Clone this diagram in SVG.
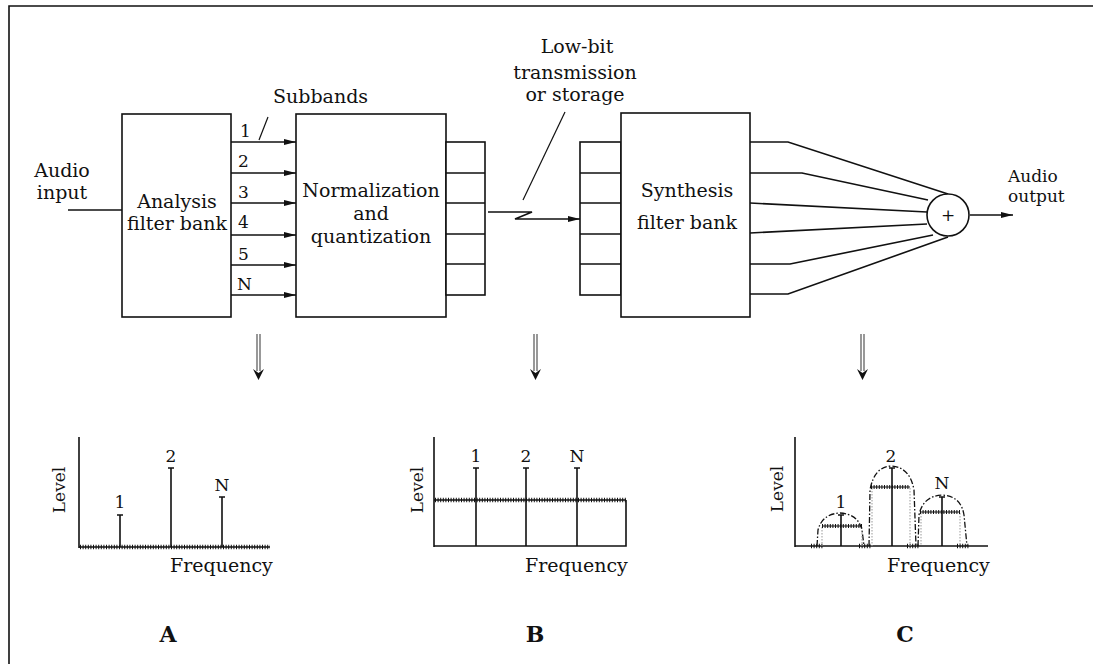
<svg xmlns="http://www.w3.org/2000/svg" width="1093" height="664" viewBox="0 0 1093 664">
<style>
.t{font-family:"DejaVu Serif","Liberation Serif",serif;font-size:19px;fill:#111}
.s{font-size:17px}
.b{font-family:"DejaVu Serif","Liberation Serif",serif;font-size:22px;font-weight:bold;fill:#111}
.box{fill:#fff;stroke:#111;stroke-width:1.6}
.ln{fill:none;stroke:#111;stroke-width:1.6}
.thin{fill:none;stroke:#111;stroke-width:1.2}
.noise{fill:none;stroke:#111;stroke-width:4.5;stroke-dasharray:1 1.6}
.dome{fill:none;stroke:#111;stroke-width:1.3;stroke-dasharray:6 2 1.5 2}
.dot{fill:none;stroke:#999;stroke-width:1;stroke-dasharray:1.5 1.5}
.dbl{fill:none;stroke:#555;stroke-width:1.2}
</style>
<defs>
<marker id="ah" markerWidth="12" markerHeight="8" refX="12" refY="4" orient="auto" markerUnits="userSpaceOnUse">
<path d="M0,1 L12,4 L0,7 Z" fill="#111"/>
</marker>
</defs>
<rect width="1093" height="664" fill="#fff"/>
<!-- frame -->
<path class="ln" d="M9,664 V6 H1093"/>

<g id="connectors">
<line class="ln" x1="68" y1="210" x2="122" y2="210"/>
<line class="ln" x1="231" y1="142" x2="296" y2="142" marker-end="url(#ah)"/>
<line class="ln" x1="231" y1="173" x2="296" y2="173" marker-end="url(#ah)"/>
<line class="ln" x1="231" y1="203" x2="296" y2="203" marker-end="url(#ah)"/>
<line class="ln" x1="231" y1="235" x2="296" y2="235" marker-end="url(#ah)"/>
<line class="ln" x1="231" y1="265" x2="296" y2="265" marker-end="url(#ah)"/>
<line class="ln" x1="231" y1="295" x2="296" y2="295" marker-end="url(#ah)"/>
<line class="thin" x1="268" y1="117" x2="259" y2="140"/>
<path class="ln" d="M488,212 H532 L515,219 H580" marker-end="url(#ah)"/>
<line class="thin" x1="565" y1="112" x2="523" y2="200"/>
<path class="ln" d="M750,142 H788 L948,194"/>
<path class="ln" d="M750,173 H802 L928,200"/>
<path class="ln" d="M750,203 L927,212"/>
<path class="ln" d="M750,233 L927,224"/>
<path class="ln" d="M750,264 H790 L933,235"/>
<path class="ln" d="M750,294 H788 L948,237"/>
<line class="ln" x1="970" y1="215" x2="1013" y2="215" marker-end="url(#ah)"/>
<!-- double arrows -->
<g id="down-arrows">
<path class="dbl" d="M257,334 V371 M260,334 V371"/>
<path d="M253,369 L258.5,380 L264,369 L258.5,373 Z" fill="#111"/>
<path class="dbl" d="M534,334 V371 M537,334 V371"/>
<path d="M530,369 L535.5,380 L541,369 L535.5,373 Z" fill="#111"/>
<path class="dbl" d="M861,334 V371 M864,334 V371"/>
<path d="M857,369 L862.5,380 L868,369 L862.5,373 Z" fill="#111"/>
</g>
</g>

<g id="audio-input">
<text class="t" x="62" y="177" text-anchor="middle">Audio</text>
<text class="t" x="62" y="199" text-anchor="middle">input</text>
</g>

<g id="analysis">
<rect class="box" x="122" y="114" width="109" height="203"/>
<text class="t" x="177" y="208" text-anchor="middle">Analysis</text>
<text class="t" x="177" y="230" text-anchor="middle">filter bank</text>
</g>

<g id="subbands">
<text class="t" x="273" y="103">Subbands</text>
<text class="t s" x="240" y="137">1</text>
<text class="t s" x="238" y="167">2</text>
<text class="t s" x="238" y="198">3</text>
<text class="t s" x="238" y="228">4</text>
<text class="t s" x="238" y="260">5</text>
<text class="t s" x="237" y="290">N</text>
</g>

<g id="normalization">
<rect class="box" x="296" y="114" width="150" height="203"/>
<text class="t" x="371" y="197" text-anchor="middle">Normalization</text>
<text class="t" x="371" y="220" text-anchor="middle">and</text>
<text class="t" x="371" y="243" text-anchor="middle">quantization</text>
<rect class="box" x="446" y="142" width="39" height="153"/>
<path class="ln" d="M446,173 H485 M446,203 H485 M446,234 H485 M446,264 H485"/>
</g>

<g id="lowbit">
<text class="t" x="577" y="53" text-anchor="middle">Low-bit</text>
<text class="t" x="575" y="79" text-anchor="middle">transmission</text>
<text class="t" x="575" y="101" text-anchor="middle">or storage</text>
</g>

<g id="synthesis">
<rect class="box" x="580" y="142" width="41" height="153"/>
<path class="ln" d="M580,173 H621 M580,203 H621 M580,234 H621 M580,264 H621"/>
<rect class="box" x="621" y="113" width="129" height="204"/>
<text class="t" x="687" y="197" text-anchor="middle">Synthesis</text>
<text class="t" x="687" y="229" text-anchor="middle">filter bank</text>
</g>

<g id="sum">
<circle class="box" cx="948" cy="215" r="21"/>
<text class="t s" x="948" y="221" text-anchor="middle">+</text>
</g>

<g id="audio-output">
<text class="t s" x="1008" y="182">Audio</text>
<text class="t s" x="1008" y="202">output</text>
</g>

<g id="plot-a">
<line class="ln" x1="79" y1="437" x2="79" y2="548"/>
<line class="ln" x1="79" y1="547" x2="270" y2="547"/>
<line class="noise" x1="80" y1="547" x2="270" y2="547"/>
<path class="ln" d="M120,547 V515 M117,515 H123 M171,547 V468 M168,468 H174 M222,547 V497 M219,497 H225"/>
<text class="t s" x="120" y="508" text-anchor="middle">1</text>
<text class="t s" x="171" y="462" text-anchor="middle">2</text>
<text class="t s" x="222" y="491" text-anchor="middle">N</text>
<text class="t s" transform="translate(65,490) rotate(-90)" text-anchor="middle">Level</text>
<text class="t" x="170" y="572">Frequency</text>
<text class="b" x="168" y="642" text-anchor="middle">A</text>
</g>

<g id="plot-b">
<line class="ln" x1="434" y1="437" x2="434" y2="547"/>
<path class="ln" d="M434,546 H626 V500"/>
<line class="ln" x1="434" y1="500" x2="626" y2="500"/>
<line class="noise" x1="435" y1="500" x2="626" y2="500"/>
<path class="ln" d="M476,546 V468 M473,468 H479 M526,546 V468 M523,468 H529 M577,546 V468 M574,468 H580"/>
<text class="t s" x="476" y="462" text-anchor="middle">1</text>
<text class="t s" x="526" y="462" text-anchor="middle">2</text>
<text class="t s" x="577" y="462" text-anchor="middle">N</text>
<text class="t s" transform="translate(423,490) rotate(-90)" text-anchor="middle">Level</text>
<text class="t" x="525" y="572">Frequency</text>
<text class="b" x="535" y="642" text-anchor="middle">B</text>
</g>

<g id="plot-c">
<line class="ln" x1="795" y1="437" x2="795" y2="547"/>
<line class="ln" x1="795" y1="546" x2="988" y2="546"/>
<path class="noise" d="M811,546 H823 M859,546 H871 M907,546 H919 M957,546 H969"/>
<path class="dome" d="M817,546 L818,530 Q822,514 840,513 Q858,514 862,530 L864,546"/>
<path class="dome" d="M869,546 L870,490 Q874,467 891,466 Q910,467 914,490 L916,546"/>
<path class="dome" d="M918,546 L919,515 Q923,496 942,495 Q961,496 964,515 L967,546"/>
<path class="dot" d="M822,527 V546 M862,527 V546 M872,488 V546 M910,488 V546 M921,513 V546 M960,513 V546"/>
<line class="thin" x1="822" y1="526" x2="862" y2="526"/>
<line class="noise" x1="822" y1="526" x2="862" y2="526" style="stroke-width:4"/>
<line class="thin" x1="871" y1="487" x2="910" y2="487"/>
<line class="noise" x1="871" y1="487" x2="910" y2="487" style="stroke-width:4"/>
<line class="thin" x1="920" y1="512" x2="960" y2="512"/>
<line class="noise" x1="920" y1="512" x2="960" y2="512" style="stroke-width:4"/>
<path class="ln" d="M841,546 V515 M838,515 H844 M892,546 V468 M889,468 H895 M942,546 V497 M939,497 H945"/>
<text class="t s" x="841" y="508" text-anchor="middle">1</text>
<text class="t s" x="891" y="462" text-anchor="middle">2</text>
<text class="t s" x="942" y="489" text-anchor="middle">N</text>
<text class="t s" transform="translate(783,489) rotate(-90)" text-anchor="middle">Level</text>
<text class="t" x="887" y="572">Frequency</text>
<text class="b" x="905" y="642" text-anchor="middle">C</text>
</g>
</svg>
